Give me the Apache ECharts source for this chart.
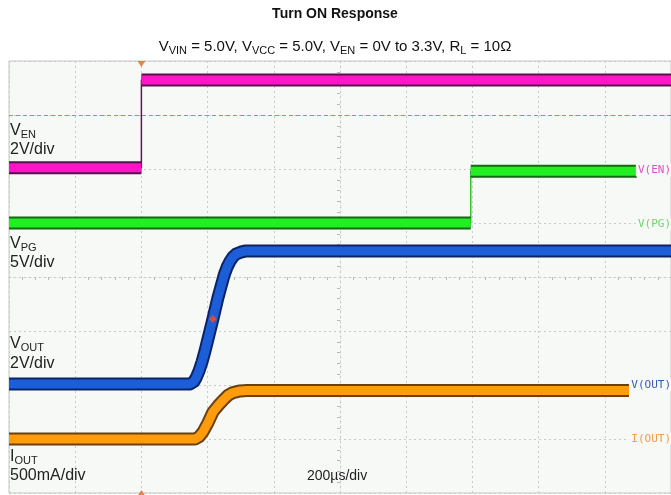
<!DOCTYPE html>
<html>
<head>
<meta charset="utf-8">
<script src="https://cdn.jsdelivr.net/npm/echarts@6/dist/echarts.min.js"></script>
<style>
html, body { margin: 0; padding: 0; background: #fff; }
#chart { width: 671px; height: 495px; }
</style>
</head>
<body>
<div id="chart"></div>
<script>
// scope time base: 200us/div, trigger at 0
const timeMin = -400
const timeMax = 1600

// V(EN) 2V/div
const enTime = [-400, 0, 0, 1600]
const enVolt = [0.05, 0.05, 3.3, 3.3]
const triggerLevel = 2

// V(PG) 5V/div
const pgTime = [-400, 995, 995, 1497]
const pgVolt = [0, 0, 4.8, 4.8]

// V(OUT) 2V/div
const outTime = [-400, 147, 158, 165, 174, 183, 192, 201, 216, 231, 241, 250, 259, 268, 277, 286, 300, 313, 1600]
const outVolt = [0.04, 0.04, 0.12, 0.26, 0.52, 0.85, 1.25, 1.70, 2.44, 3.22, 3.67, 4.07, 4.37, 4.59, 4.75, 4.85, 4.92, 4.96, 4.96]
const cursorPoint = [216, 2.44]

// I(OUT) 500mA/div
const ioutTime = [-400, 162, 174, 186, 201, 216, 232, 247, 262, 277, 298, 319, 1473]
const ioutAmp = [0, 0, 0.02, 0.065, 0.15, 0.25, 0.31, 0.36, 0.405, 0.43, 0.445, 0.45, 0.45]

const font = '"Liberation Sans", Arial, sans-serif'

function pairs(ts, vs) {
  return ts.map((t, i) => [t, vs[i]])
}

// thick trace, broken at vertical edges
function bandData(ts, vs) {
  const out = []
  ts.forEach((t, i) => {
    if (i > 0 && t === ts[i - 1]) out.push([t, '-'])
    out.push([t, vs[i]])
  })
  return out
}

function trace(ts, vs, yIdx, color, dark, edge) {
  const base = {
    type: 'line',
    xAxisIndex: 1,
    yAxisIndex: yIdx,
    showSymbol: false,
    symbol: 'none',
    silent: true,
    animation: false
  }
  return [
    Object.assign({}, base, {
      data: pairs(ts, vs),
      lineStyle: { color: edge, width: 1.5 }
    }),
    Object.assign({}, base, {
      data: bandData(ts, vs),
      lineStyle: { color: dark, width: 13, cap: 'butt', join: 'round' }
    }),
    Object.assign({}, base, {
      data: bandData(ts, vs),
      lineStyle: { color: color, width: 9, cap: 'butt', join: 'round' }
    })
  ]
}

const chart = echarts.init(document.getElementById('chart'))

const series = [].concat(
  trace(enTime, enVolt, 1, '#ff14c8', '#5a1046', '#5a1a48'),
  trace(pgTime, pgVolt, 2, '#22ef22', '#136a13', '#30c030'),
  trace(ioutTime, ioutAmp, 4, '#ff9c0c', '#6a4010', '#6a4010'),
  trace(outTime, outVolt, 3, '#1c5ed8', '#0c2466', '#0c2466')
)

// trigger level line on V(EN)
series[2].markLine = {
  silent: true,
  symbol: 'none',
  label: { show: false },
  lineStyle: { color: '#d0805a', type: [4, 3], width: 1 },
  data: [{ yAxis: triggerLevel }]
}

series.push({
  type: 'scatter',
  xAxisIndex: 1,
  yAxisIndex: 3,
  symbol: 'diamond',
  symbolSize: 8,
  itemStyle: { color: '#ff4a1a' },
  data: [cursorPoint],
  silent: true,
  z: 5
})

series.push({
  type: 'scatter',
  xAxisIndex: 1,
  yAxisIndex: 0,
  symbol: 'triangle',
  symbolSize: [8, 6],
  symbolRotate: 180,
  symbolOffset: [0, 3],
  itemStyle: { color: '#e06a2a' },
  data: [[0, 4]],
  clip: false,
  silent: true
})

series.push({
  type: 'scatter',
  xAxisIndex: 1,
  yAxisIndex: 0,
  symbol: 'triangle',
  symbolSize: [8, 6],
  symbolOffset: [0, 0],
  itemStyle: { color: '#e06a2a' },
  data: [[0, -4]],
  clip: false,
  silent: true
})

const gridLine = { color: '#c9cbc9', type: [2, 3], width: 1 }

function leftText(y, main, sub) {
  const text = sub ? '{n|' + main + '}{s|' + sub + '}' : '{n|' + main + '}'
  return {
    type: 'text',
    x: 10,
    y: y,
    style: {
      text: text,
      align: 'left',
      verticalAlign: 'middle',
      rich: {
        n: { fontFamily: font, fontSize: 16, lineHeight: 18, fill: '#222' },
        s: { fontFamily: font, fontSize: 11, lineHeight: 14, verticalAlign: 'bottom', fill: '#222' }
      }
    },
    z: 100
  }
}

function chanLabel(y, text, color) {
  return {
    type: 'text',
    x: 671,
    y: y,
    style: {
      text: text,
      align: 'right',
      verticalAlign: 'middle',
      font: '11px "DejaVu Sans Mono", monospace',
      fill: color,
      backgroundColor: '#f7f9f7',
      padding: [1, 0, 1, 2]
    },
    z: 100
  }
}

chart.setOption({
  animation: false,
  backgroundColor: '#fff',
  grid: {
    left: 9,
    right: 0,
    top: 61,
    bottom: 2,
    show: true,
    backgroundColor: '#f7f9f7',
    borderColor: '#c4c6c4',
    borderWidth: 1
  },
  xAxis: [
    {
      type: 'value',
      min: -5,
      max: 5,
      interval: 1,
      axisLine: { show: true, onZero: true, lineStyle: gridLine },
      axisTick: { show: false },
      axisLabel: { show: false },
      minorTick: { show: true, splitNumber: 5, length: 3, lineStyle: { color: '#b8bab8' } },
      splitLine: { show: true, lineStyle: gridLine }
    },
    { type: 'value', min: timeMin, max: timeMax, show: false }
  ],
  yAxis: [
    {
      type: 'value',
      min: -4,
      max: 4,
      interval: 1,
      axisLine: { show: true, onZero: true, onZeroAxisIndex: 0, lineStyle: gridLine },
      axisTick: { show: false },
      axisLabel: { show: false },
      minorTick: { show: true, splitNumber: 5, length: 3, lineStyle: { color: '#b8bab8' } },
      splitLine: { show: true, lineStyle: gridLine }
    },
    { type: 'value', min: -12, max: 4, show: false },
    { type: 'value', min: -25, max: 15, show: false },
    { type: 'value', min: -4, max: 12, show: false },
    { type: 'value', min: -0.5, max: 3.5, show: false }
  ],
  series: series,
  graphic: [
    {
      type: 'text',
      x: 335,
      y: 14,
      style: {
        text: 'Turn ON Response',
        align: 'center',
        verticalAlign: 'middle',
        font: 'bold 14px ' + font,
        fill: '#111'
      }
    },
    {
      type: 'text',
      x: 335,
      y: 47,
      style: {
        text: '{n|V}{s|VIN}{n| = 5.0V, V}{s|VCC}{n| = 5.0V, V}{s|EN}{n| = 0V to 3.3V, R}{s|L}{n| = 10Ω}',
        align: 'center',
        verticalAlign: 'middle',
        rich: {
          n: { fontFamily: font, fontSize: 15, lineHeight: 18, fill: '#111' },
          s: { fontFamily: font, fontSize: 11, lineHeight: 14, verticalAlign: 'bottom', fill: '#111' }
        }
      }
    },
    leftText(131, 'V', 'EN'),
    leftText(150, '2V/div'),
    leftText(244, 'V', 'PG'),
    leftText(263, '5V/div'),
    leftText(344, 'V', 'OUT'),
    leftText(364, '2V/div'),
    leftText(457, 'I', 'OUT'),
    leftText(476, '500mA/div'),
    {
      type: 'text',
      x: 307,
      y: 476,
      style: {
        text: '200µs/div',
        align: 'left',
        verticalAlign: 'middle',
        font: '14px ' + font,
        fill: '#222'
      },
      z: 100
    },
    chanLabel(170, 'V(EN)', '#e050c8'),
    chanLabel(224, 'V(PG)', '#6ad86a'),
    chanLabel(385, 'V(OUT)', '#3a58b8'),
    chanLabel(439, 'I(OUT)', '#e8a040')
  ]
})
</script>
</body>
</html>
